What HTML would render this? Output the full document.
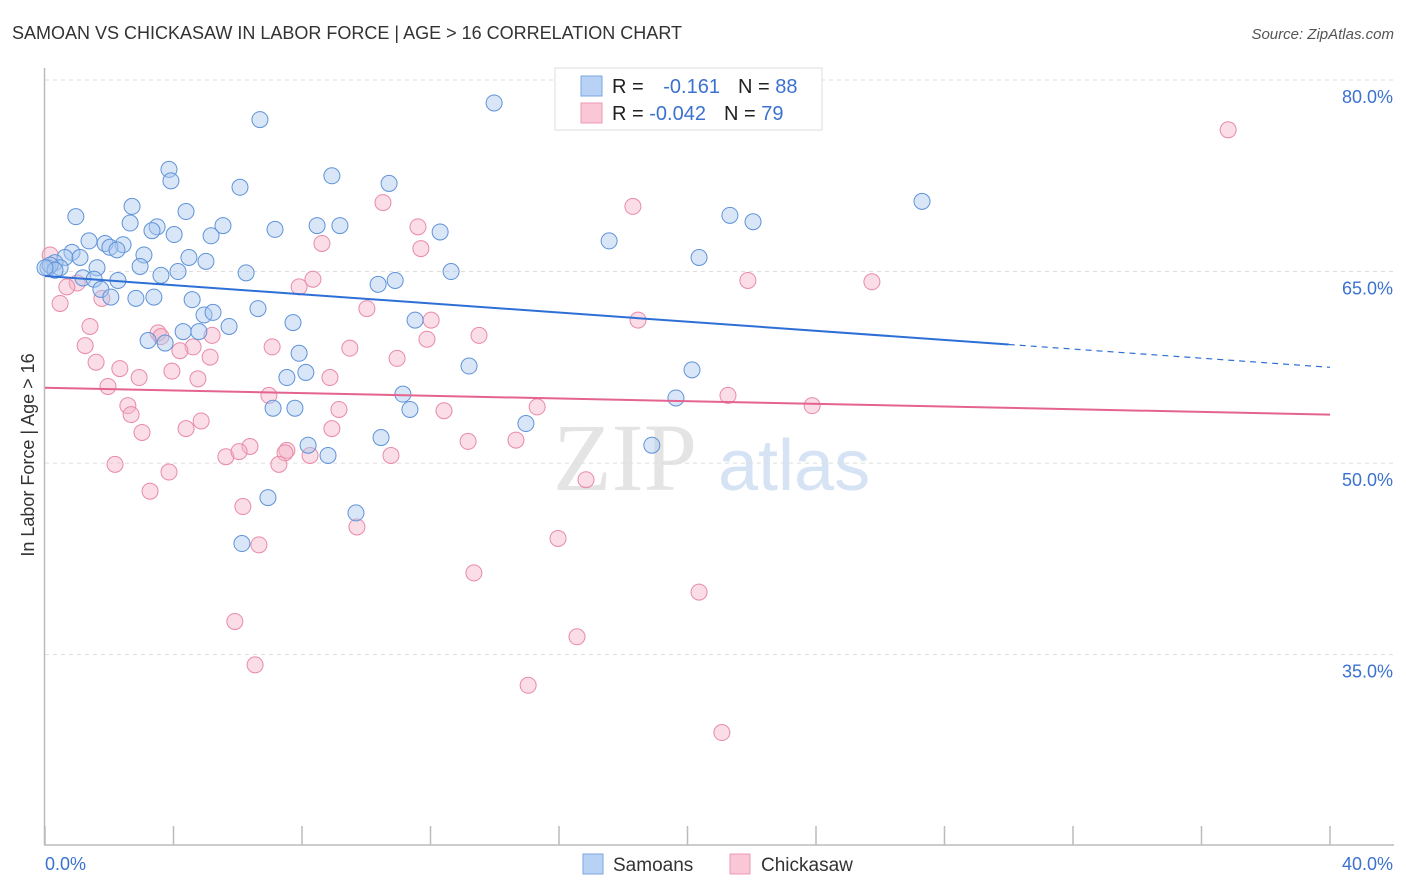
<!DOCTYPE html>
<html><head><meta charset="utf-8"><style>
body{margin:0;background:#fff;font-family:"Liberation Sans",sans-serif}
svg{display:block}
</style></head><body>
<svg id="chart" width="1406" height="892" xmlns="http://www.w3.org/2000/svg">
<text x="12" y="39" font-size="18" fill="#333">SAMOAN VS CHICKASAW IN LABOR FORCE | AGE &gt; 16 CORRELATION CHART</text>
<text x="1394" y="39" font-size="15" fill="#555" font-style="italic" text-anchor="end">Source: ZipAtlas.com</text>
<g>
<text x="553" y="490" font-size="96" font-family="Liberation Serif,serif" fill="#e4e4e4">ZIP</text>
<text x="718" y="490" font-size="72" fill="#d6e3f4">atlas</text>
</g>
<g id="grid"></g>
<g id="axes"></g>
<text x="34" y="455" font-size="18" fill="#333" text-anchor="middle" transform="rotate(-90 34 455)">In Labor Force | Age &gt; 16</text>
<g id="pts"></g>
<g id="trends"></g>
<g>
<rect x="555" y="68" width="267" height="62" fill="#fff" stroke="#ddd"/>
<rect x="581" y="76" width="21" height="20" fill="#b8d2f5" stroke="#7aa6e0"/>
<rect x="581" y="103" width="21" height="20" fill="#f9c7d6" stroke="#ec9ab4"/>
<text x="612" y="93" font-size="20" fill="#222">R = <tspan fill="#3b72d0" dx="14">-0.161</tspan><tspan fill="#222" dx="18">N = </tspan><tspan fill="#3b72d0">88</tspan></text>
<text x="612" y="120" font-size="20" fill="#222">R = <tspan fill="#3b72d0">-0.042</tspan><tspan fill="#222" dx="18">N = </tspan><tspan fill="#3b72d0">79</tspan></text>
</g>
<g>
<rect x="583" y="854" width="20" height="20" fill="#b8d2f5" stroke="#7aa6e0"/>
<text x="613" y="871" font-size="19" fill="#333">Samoans</text>
<rect x="730" y="854" width="20" height="20" fill="#f9c7d6" stroke="#ec9ab4"/>
<text x="761" y="871" font-size="19" fill="#333">Chickasaw</text>
</g>
</svg>
<script>
const blueX=[13.98,6.69,3.86,3.92,8.93,10.71,6.07,27.3,2.71,4.39,0.96,21.32,22.04,2.65,5.54,3.49,3.33,4.02,7.16,8.47,9.18,5.17,12.3,17.56,1.37,1.87,2.43,2.02,3.08,0.84,2.24,0.62,1.09,4.48,5.01,20.36,0.31,0.09,0.47,2.96,1.62,4.14,6.26,12.64,3.61,1.18,1.53,2.27,10.37,10.9,1.74,2.05,2.83,3.39,4.58,6.63,4.95,5.23,5.73,7.72,11.52,4.3,4.79,3.21,3.74,7.91,13.2,20.14,7.53,8.12,11.14,7.1,7.78,11.36,19.64,14.97,10.46,8.19,8.81,18.89,6.94,9.68,6.13,0.16,0.31,0];
const blueY=[78.2,76.9,73.0,72.1,72.5,71.9,71.6,70.5,70.1,69.7,69.3,69.4,68.9,68.8,68.6,68.5,68.2,67.9,68.3,68.6,68.6,67.8,68.1,67.4,67.4,67.2,67.1,66.9,66.3,66.5,66.7,66.1,66.1,66.1,65.8,66.1,65.7,65.3,65.3,65.4,65.3,65.0,64.9,65.0,64.7,64.5,64.4,64.3,64.0,64.3,63.6,63.0,62.9,63.0,62.8,62.1,61.6,61.8,60.7,61.0,61.2,60.3,60.3,59.6,59.4,58.6,57.6,57.3,56.7,57.1,55.4,54.3,54.3,54.2,55.1,53.1,52.0,51.4,50.6,51.4,47.3,46.1,43.7,65.5,65.1,65.3];
const pinkX=[36.83,10.52,18.3,11.61,8.62,11.7,25.74,21.88,8.34,7.91,1.0,1.77,0.68,0.47,1.4,10.02,12.02,18.46,13.51,11.89,3.52,3.61,5.2,1.25,4.61,4.2,7.07,9.49,5.14,1.59,10.96,2.33,3.95,2.93,4.76,8.87,1.96,6.97,21.26,23.88,2.58,2.68,9.15,12.42,15.32,4.86,4.39,3.02,8.93,13.17,14.66,5.63,6.38,6.04,7.53,7.47,8.25,10.77,7.28,2.18,3.86,16.84,3.27,6.16,9.71,15.97,6.66,13.35,20.36,5.91,16.56,6.54,15.04,21.07,0.16];
const pinkY=[76.1,70.4,70.1,68.5,67.2,66.8,64.2,64.3,64.4,63.8,64.1,62.9,63.8,62.5,60.7,62.1,61.2,61.2,60.0,59.7,60.2,59.9,60.0,59.2,59.1,58.8,59.1,59.0,58.3,57.9,58.2,57.4,57.2,56.7,56.6,56.7,56.0,55.3,55.3,54.5,54.5,53.8,54.2,54.1,54.4,53.3,52.7,52.4,52.7,51.7,51.8,50.5,51.3,50.9,51.0,50.8,50.6,50.6,49.9,49.9,49.3,48.7,47.8,46.6,45.0,44.1,43.6,41.4,39.9,37.6,36.4,34.2,32.6,28.9,66.3];
const yTicks=[80,65,50,35];
const yTickLabels=["80.0%","65.0%","50.0%","35.0%"];
const xTicks=[0,4,8,12,16,20,24,28,32,36,40];
const blueTrend=[64.65,57.5];
const pinkTrend=[55.9,53.8];
const blueSolidEnd=30;

const X=v=>45+v*32.125;
const Y=v=>80+(80-v)*12.77;
const NS="http://www.w3.org/2000/svg";
function mk(tag,attrs,parent){const e=document.createElementNS(NS,tag);for(const k in attrs)e.setAttribute(k,attrs[k]);parent.appendChild(e);return e;}
const grid=document.getElementById('grid'),axes=document.getElementById('axes'),pts=document.getElementById('pts'),tr=document.getElementById('trends');
yTicks.forEach((t,i)=>{
 const l=mk('line',{x1:45,x2:1394,y1:Y(t),y2:Y(t),stroke:'#ddd','stroke-dasharray':'4,4'},grid);
 
 
 const tx=mk('text',{x:1393,y:Y(t)+23,'font-size':18,fill:'#3b72d0','text-anchor':'end'},axes);
 tx.textContent=yTickLabels[i];
 
 
});
let a=mk('line',{x1:44.5,x2:44.5,y1:68,y2:845,stroke:'#bbb','stroke-width':1.5},axes);


a=mk('line',{x1:44,x2:1394,y1:845,y2:845,stroke:'#bbb','stroke-width':1.5},axes);


xTicks.forEach(t=>{
 const l=mk('line',{x1:X(t),x2:X(t),y1:826,y2:845,stroke:'#bbb','stroke-width':1.5},axes);
 
 
});
let t0=mk('text',{x:45,y:870,'font-size':18,fill:'#3b72d0'},axes);t0.textContent='0.0%';


t0=mk('text',{x:1393,y:870,'font-size':18,fill:'#3b72d0','text-anchor':'end'},axes);t0.textContent='40.0%';


function dots(xs,ys,fill,stroke,name){xs.forEach((x,i)=>{
 const c=mk('circle',{cx:X(x),cy:Y(ys[i]),r:8,fill:fill,'fill-opacity':0.45,stroke:stroke,'stroke-width':1},pts);
 
 
});}
dots(pinkX,pinkY,'#f5b3c8','#e98aa8','point-chickasaw');
dots(blueX,blueY,'#a9c8f0','#5f93d8','point-samoans');
const bAt=x=>blueTrend[0]+(blueTrend[1]-blueTrend[0])*x/40;
let l=mk('line',{x1:X(0),y1:Y(bAt(0)),x2:X(blueSolidEnd),y2:Y(bAt(blueSolidEnd)),stroke:'#2e6fd6','stroke-width':2},tr);


l=mk('line',{x1:X(blueSolidEnd),y1:Y(bAt(blueSolidEnd)),x2:X(40),y2:Y(bAt(40)),stroke:'#2e6fd6','stroke-width':1.2,'stroke-dasharray':'6,5'},tr);


l=mk('line',{x1:X(0),y1:Y(pinkTrend[0]),x2:X(40),y2:Y(pinkTrend[1]),stroke:'#e5638f','stroke-width':2},tr);


</script>
</body></html>
